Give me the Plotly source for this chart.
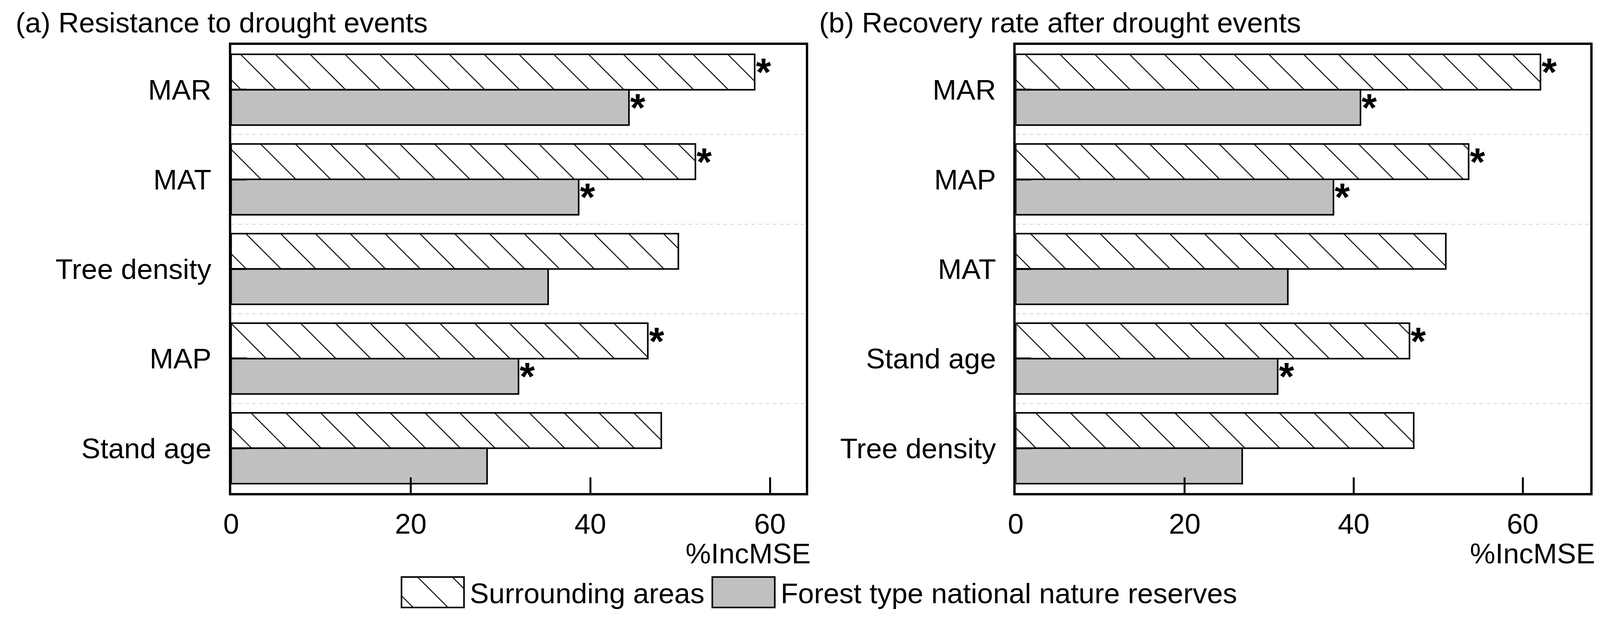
import plotly.graph_objects as go

# ---------------- data ----------------
series_names = ["Surrounding areas", "Forest type national nature reserves"]

cats_a = ["MAR", "MAT", "Tree density", "MAP", "Stand age"]
surr_a = [58.3, 51.7, 49.8, 46.4, 47.9]
nnr_a = [44.3, 38.7, 35.3, 32.0, 28.5]
sig_surr_a = [True, True, False, True, False]
sig_nnr_a = [True, True, False, True, False]

cats_b = ["MAR", "MAP", "MAT", "Stand age", "Tree density"]
surr_b = [62.1, 53.6, 50.9, 46.6, 47.1]
nnr_b = [40.8, 37.6, 32.2, 31.0, 26.8]
sig_surr_b = [True, True, False, True, False]
sig_nnr_b = [True, True, False, True, False]

titles = ["(a) Resistance to drought events", "(b) Recovery rate after drought events"]
x_title = "%IncMSE"
xticks = [0, 20, 40, 60]
xmax = [64, 68]

# ---------------- style ----------------
FONT = "Liberation Sans, Arial, sans-serif"
FS = 73
GRAY = "#c0c0c0"

fig = go.Figure()

panels = [
    (cats_a, surr_a, nnr_a, sig_surr_a, sig_nnr_a, "x", "y"),
    (cats_b, surr_b, nnr_b, sig_surr_b, sig_nnr_b, "x2", "y2"),
]

for k, (cats, surr, nnr, ss, sn, xa, ya) in enumerate(panels):
    pos = list(range(len(cats)))
    fig.add_trace(go.Bar(
        y=pos, x=surr, orientation="h", name=series_names[0],
        xaxis=xa, yaxis=ya, showlegend=(k == 0), legendgroup="s",
        marker=dict(color="white", line=dict(color="black", width=4),
                    pattern=dict(shape="\\", size=63, solidity=0.04,
                                 fgcolor="black", bgcolor="white", fillmode="replace")),
        text=["*" if s else "" for s in ss], textposition="outside",
        textangle=0, constraintext="none", cliponaxis=False,
        textfont=dict(family=FONT, size=100, color="black", weight="bold"),
        hoverinfo="skip",
    ))
    fig.add_trace(go.Bar(
        y=pos, x=nnr, orientation="h", name=series_names[1],
        xaxis=xa, yaxis=ya, showlegend=(k == 0), legendgroup="n",
        marker=dict(color=GRAY, line=dict(color="black", width=4)),
        text=["*" if s else "" for s in sn], textposition="outside",
        textangle=0, constraintext="none", cliponaxis=False,
        textfont=dict(family=FONT, size=100, color="black", weight="bold"),
        hoverinfo="skip",
    ))

W, H = 4102, 1587
ydom = [1 - 1262 / H, 1 - 115 / H]
xdoms = [[574.5 / W, 2053 / W], [2593 / W, 4071 / W]]


def xaxis_cfg(k):
    return dict(
        domain=xdoms[k], range=[0, xmax[k]], tickvals=xticks,
        ticks="inside", ticklen=40, tickwidth=5, tickcolor="black",
        showline=True, mirror=True, linewidth=6, linecolor="black",
        showgrid=False, zeroline=False,
        tickfont=dict(family=FONT, size=FS, color="black"),
        ticklabelstandoff=10,
        anchor="y" if k == 0 else "y2",
    )


def yaxis_cfg(k, cats):
    n = len(cats)
    return dict(
        domain=ydom, range=[n - 0.5, -0.5],
        tickvals=list(range(n)), ticktext=cats,
        ticks="inside", ticklen=40, tickwidth=5, tickcolor="black",
        showline=True, mirror=True, linewidth=6, linecolor="black",
        showgrid=False, zeroline=False,
        minor=dict(tickvals=[i + 0.5 for i in range(n - 1)], showgrid=True,
                   gridcolor="#d2d2d2", griddash="dash", gridwidth=2, ticks=""),
        tickfont=dict(family=FONT, size=FS, color="black"),
        ticklabelstandoff=30,
        anchor="x" if k == 0 else "x2",
    )


annotations = []
title_x = [18 / W, 2085 / W]
for k in range(2):
    annotations.append(dict(
        text=titles[k], xref="paper", yref="paper", x=title_x[k], y=1 - 15 / H,
        xanchor="left", yanchor="top", showarrow=False,
        font=dict(family=FONT, size=FS, color="black"),
    ))
    annotations.append(dict(
        text=x_title, xref=("x domain" if k == 0 else "x2 domain"),
        yref=("y domain" if k == 0 else "y2 domain"), x=1, y=0,
        xanchor="right", yanchor="top", xshift=14, yshift=-112, showarrow=False,
        font=dict(family=FONT, size=FS, color="black"),
    ))

fig.update_layout(
    width=W, height=H, margin=dict(l=0, r=0, t=0, b=0),
    paper_bgcolor="white", plot_bgcolor="white",
    barmode="group", bargap=0.21, bargroupgap=0,
    font=dict(family=FONT, size=FS, color="black"),
    xaxis=xaxis_cfg(0), yaxis=yaxis_cfg(0, cats_a),
    xaxis2=xaxis_cfg(1), yaxis2=yaxis_cfg(1, cats_b),
    annotations=annotations,
    legend=dict(orientation="h", x=0.5078, xanchor="center", y=1 - 1516 / H,
                yanchor="middle", font=dict(family=FONT, size=FS, color="black"),
                itemwidth=180, bgcolor="rgba(0,0,0,0)", traceorder="normal",
                itemclick=False, itemdoubleclick=False),
    showlegend=True,
)

post = """
document.documentElement.style.margin = '0';
document.body.style.margin = '0';
document.body.style.overflow = 'hidden';
var gd = document.getElementById('{plot_id}');
function fixLegend(){
  var items = gd.querySelectorAll('.legend .traces');
  var bars = gd.querySelectorAll('.barlayer .trace');
  items.forEach(function(it, i){
    var p = it.querySelector('.legendpoints path');
    if(!p) return;
    p.setAttribute('d', 'M80,39H-80V-39H80Z');
    var bp = bars[i] ? bars[i].querySelector('path') : null;
    if(bp){ p.style.fill = bp.style.fill; }
    p.style.strokeWidth = '4px';
    p.style.stroke = 'black';
  });
}
fixLegend();
"""

fig.write_html("out.html", post_script=post, config={"displayModeBar": False})
